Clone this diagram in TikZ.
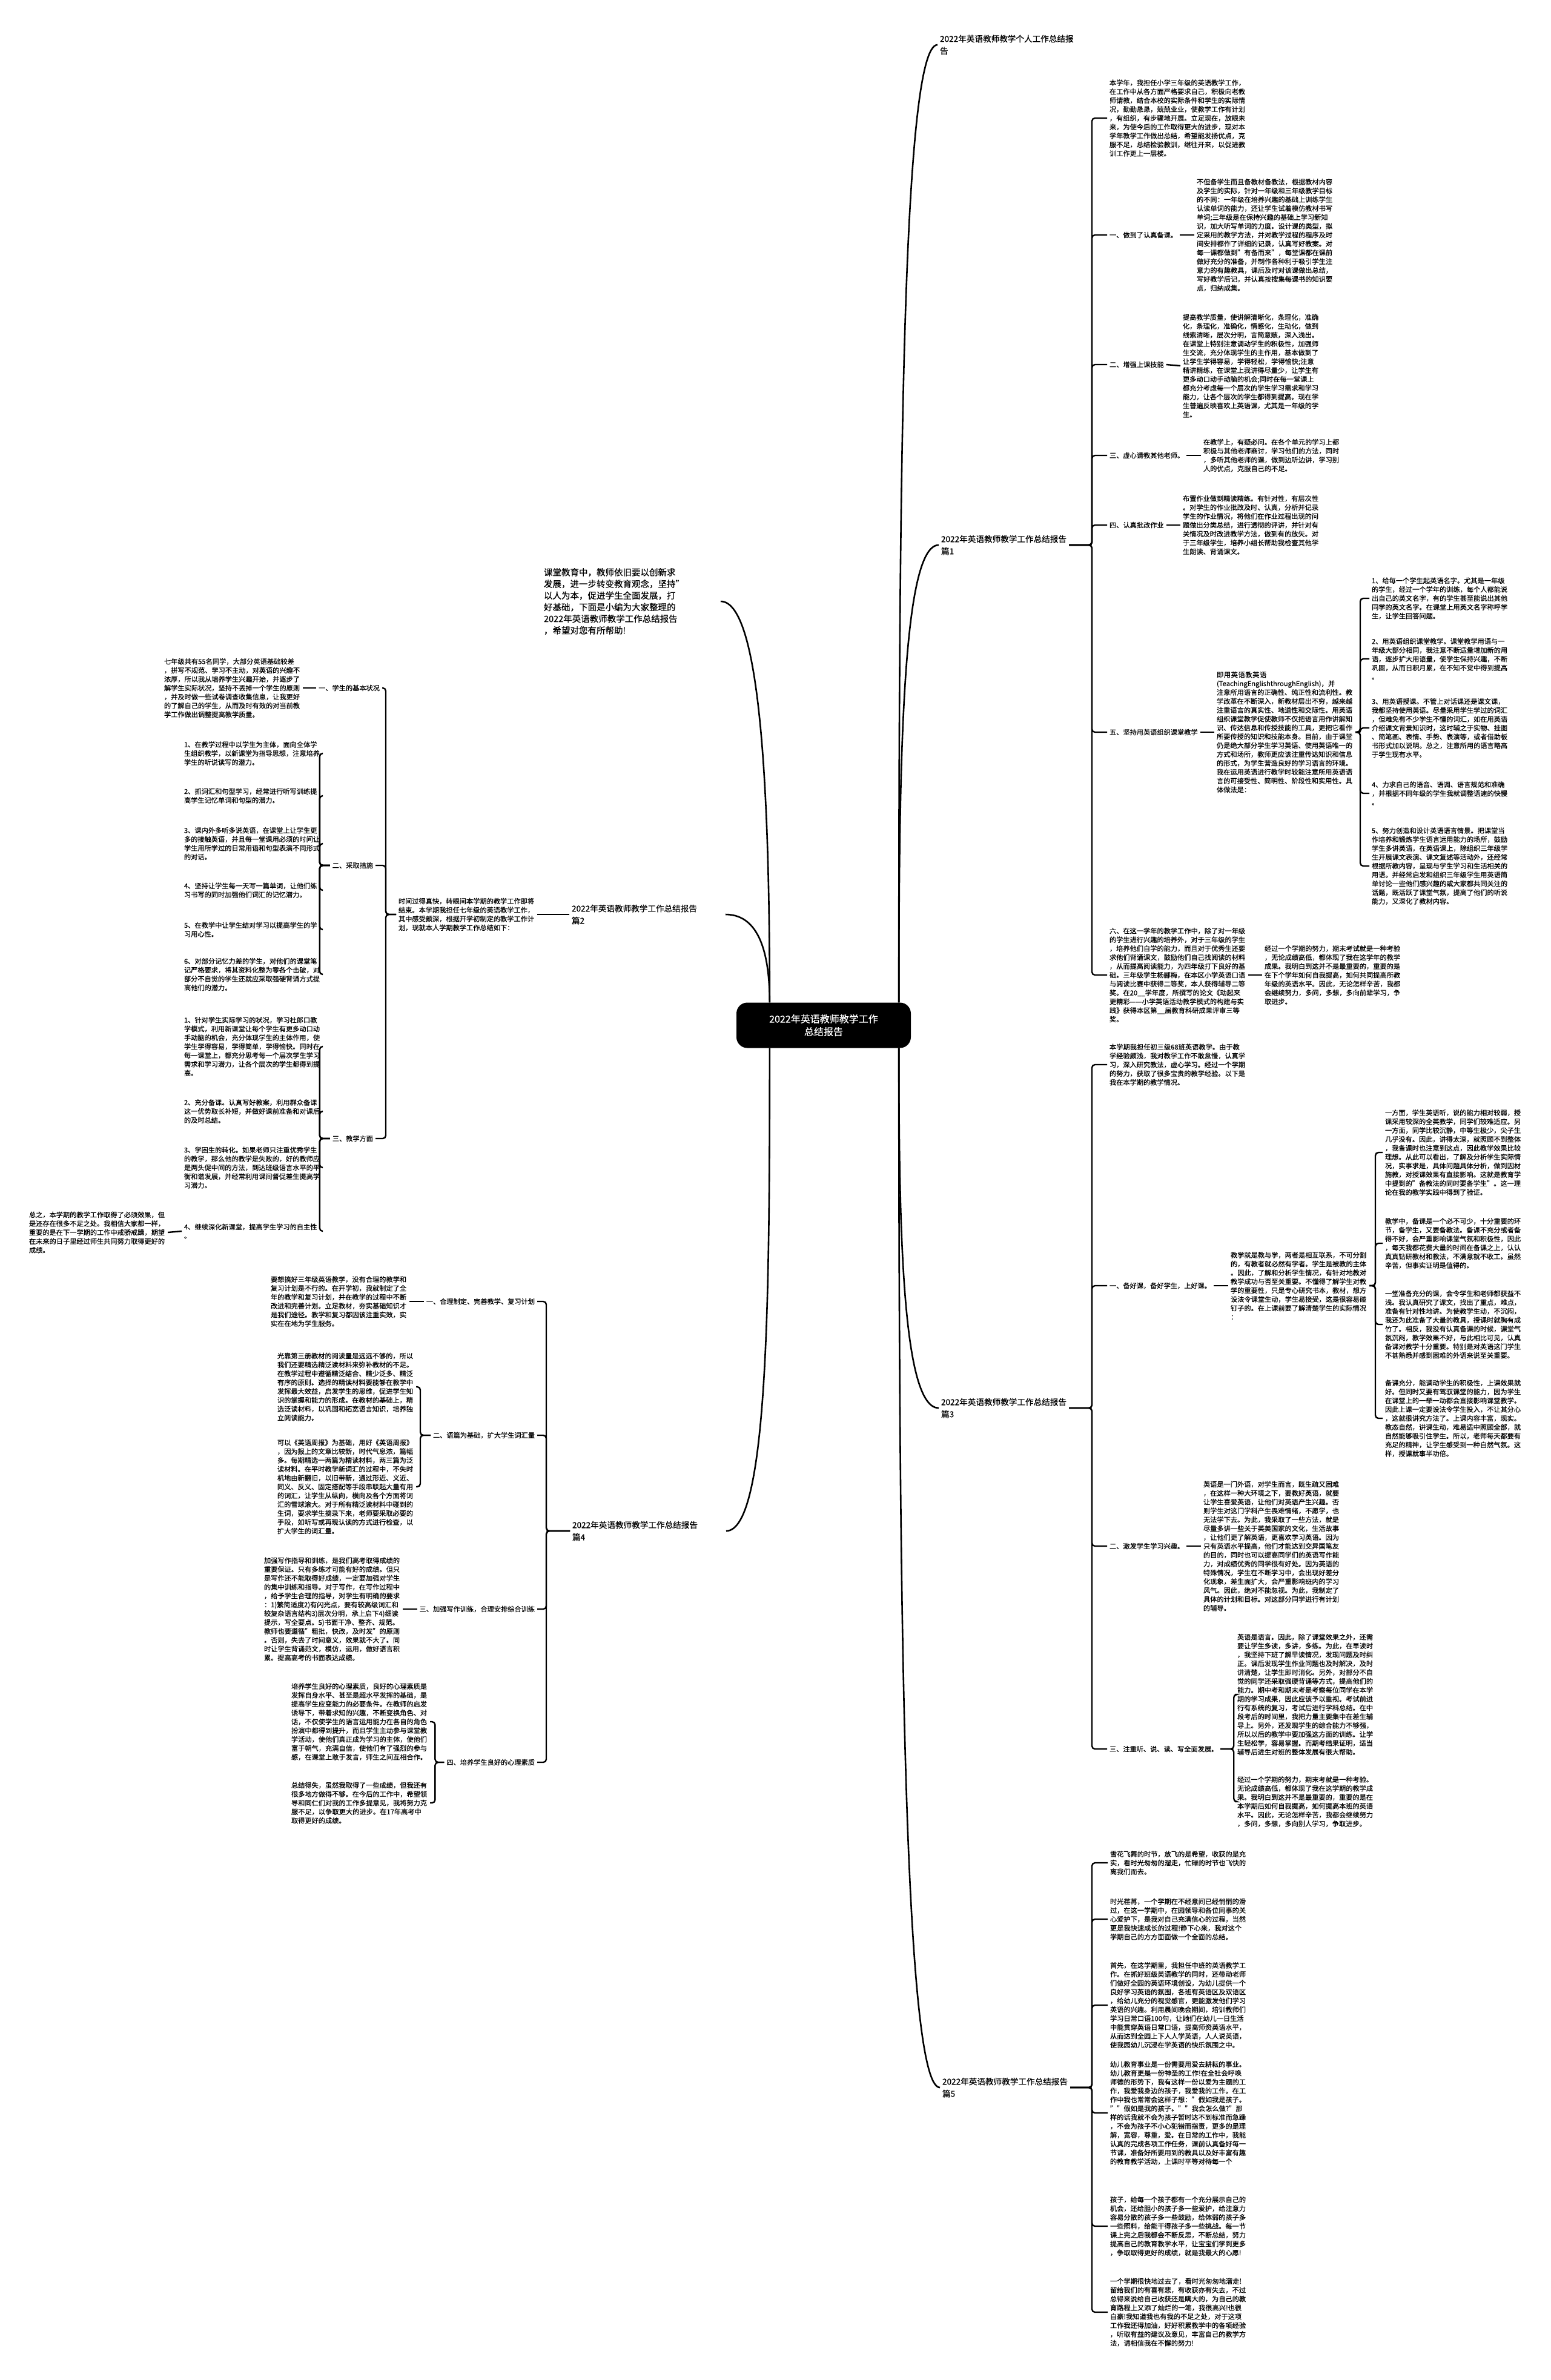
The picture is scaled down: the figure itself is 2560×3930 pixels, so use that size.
\documentclass[tikz,border=0pt]{standalone}
\usepackage{fontspec}
\setmainfont{Noto Sans CJK SC}[FakeBold=0.6]
% break between any two CJK characters, punctuation included
\newXeTeXintercharclass\cjkcls
\newcount\cjkc
\def\setcjk#1#2{\cjkc=#1\relax
  \loop\XeTeXcharclass\cjkc=\cjkcls\relax\ifnum\cjkc<#2\advance\cjkc by 1\repeat}
\setcjk{"3000}{"303F}
\setcjk{"4E00}{"9FFF}
\setcjk{"FF00}{"FFEF}
\XeTeXcharclass"2014=\cjkcls
\XeTeXinterchartoks\cjkcls\cjkcls={\hskip0pt plus .1pt\relax}
\XeTeXinterchartoks 0 \cjkcls={\hskip0pt plus .1pt\relax}
\XeTeXinterchartoks\cjkcls 0 ={\hskip0pt plus .1pt\relax}
\XeTeXinterchartokenstate=1

\begin{document}
\begin{tikzpicture}[x=1pt,y=-1pt, %% 1pt = 1 pixel of the page, y going down
    root/.style={fill=black,text=white,rounded corners=18pt,align=center,
      minimum width=288pt,minimum height=75pt,font=\fontsize{16}{21}\selectfont},
    rep/.style={align=left,inner sep=0pt,outer sep=4pt,font=\fontsize{13.6}{20}\selectfont},
    lbl/.style={inner sep=0pt,outer sep=4pt,font=\fontsize{11.2}{14.6}\selectfont},
    txt/.style={lbl,text width=225pt,align=left},
    main/.style={line width=2.6pt},
    brk/.style={line width=2.4pt,rounded corners=5pt}]
  \useasboundingbox (0,0) rectangle (2560,3930);

  \node[root] (C) at (1360,1693) {2022年英语教师教学工作\\总结报告};

  %% right side
  \node[rep,anchor=west] (r0) at (1548,74) {2022年英语教师教学个人工作总结报\\告};
  \node[rep,anchor=west] (r1) at (1550,900) {2022年英语教师教学工作总结报告\\篇1};
  \node[rep,anchor=west] (r3) at (1550,2325) {2022年英语教师教学工作总结报告\\篇3};
  \node[rep,anchor=west] (r5) at (1552,3447) {2022年英语教师教学工作总结报告\\篇5};

  % report 1
  \node[txt,anchor=west] (a1) at (1828,195) {本学年，我担任小学三年级的英语教学工作，在工作中从各方面严格要求自己，积极向老教师请教，结合本校的实际条件和学生的实际情况，勤勤恳恳，兢兢业业，使教学工作有计划，有组织，有步骤地开展。立足现在，放眼未来，为使今后的工作取得更大的进步，现对本学年教学工作做出总结，希望能发扬优点，克服不足，总结检验教训，继往开来，以促进教训工作更上一层楼。};
  \node[lbl,anchor=west] (a2) at (1828,388) {一、做到了认真备课。};
  \node[txt,anchor=west] (a2t) at (1972,388) {不但备学生而且备教材备教法，根据教材内容及学生的实际，针对一年级和三年级教学目标的不同：一年级在培养兴趣的基础上训练学生认读单词的能力，还让学生试着模仿教材书写单词;三年级是在保持兴趣的基础上学习新知识，加大听写单词的力度。设计课的类型，拟定采用的教学方法，并对教学过程的程序及时间安排都作了详细的记录，认真写好教案。对每一课都做到"有备而来"，每堂课都在课前做好充分的准备，并制作各种利于吸引学生注意力的有趣教具，课后及时对该课做出总结，写好教学后记，并认真按搜集每课书的知识要点，归纳成集。};
  \node[lbl,anchor=west] (a3) at (1828,602) {二、增强上课技能};
  \node[txt,anchor=west] (a3t) at (1949,604) {提高教学质量，使讲解清晰化，条理化，准确化，条理化，准确化，情感化，生动化，做到线索清晰，层次分明，言简意赅，深入浅出。在课堂上特别注意调动学生的积极性，加强师生交流，充分体现学生的主作用，基本做到了让学生学得容易，学得轻松，学得愉快;注意精讲精练，在课堂上我讲得尽量少，让学生有更多动口动手动脑的机会;同时在每一堂课上都充分考虑每一个层次的学生学习需求和学习能力，让各个层次的学生都得到提高。现在学生普遍反映喜欢上英语课，尤其是一年级的学生。};
  \node[lbl,anchor=west] (a4) at (1828,752) {三、虚心请教其他老师。};
  \node[txt,anchor=west] (a4t) at (1983,752) {在教学上，有疑必问。在各个单元的学习上都积极与其他老师商讨，学习他们的方法，同时，多听其他老师的课，做到边听边讲，学习别人的优点，克服自己的不足。};
  \node[lbl,anchor=west] (a5) at (1828,867) {四、认真批改作业};
  \node[txt,anchor=west] (a5t) at (1949,867) {布置作业做到精读精练。有针对性，有层次性。对学生的作业批改及时、认真，分析并记录学生的作业情况，将他们在作业过程出现的问题做出分类总结，进行透彻的评讲，并针对有关情况及时改进教学方法，做到有的放矢。对于三年级学生，培养小组长帮助我检查其他学生朗读、背诵课文。};
  \node[lbl,anchor=west] (a6) at (1828,1209) {五、坚持用英语组织课堂教学};
  \node[txt,anchor=west] (a6t) at (2005,1209) {即用英语教英语(\mbox{TeachingEnglishthroughEnglish})，并注意所用语言的正确性、纯正性和流利性。教学改革在不断深入，新教材层出不穷，越来越注重语言的真实性、地道性和交际性。用英语组织课堂教学促使教师不仅把语言用作讲解知识、传达信息和传授技能的工具，更把它看作所要传授的知识和技能本身。目前，由于课堂仍是绝大部分学生学习英语、使用英语唯一的方式和场所，教师更应该注重传达知识和信息的形式，为学生营造良好的学习语言的环境。我在运用英语进行教学时较能注意所用英语语言的可接受性、简明性、阶段性和实用性。具体做法是：};
  \node[txt,anchor=west] (s1) at (2261,988) {1、给每一个学生起英语名字。尤其是一年级的学生，经过一个学年的训练，每个人都能说出自己的英文名字，有的学生甚至能说出其他同学的英文名字。在课堂上用英文名字称呼学生，让学生回答问题。};
  \node[txt,anchor=west] (s2) at (2261,1088) {2、用英语组织课堂教学。课堂教学用语与一年级大部分相同，我注意不断适量增加新的用语，逐步扩大用语量，使学生保持兴趣，不断巩固，从而日积月累，在不知不觉中得到提高。};
  \node[txt,anchor=west] (s3) at (2261,1202) {3、用英语授课。不管上对话课还是课文课，我都坚持使用英语。尽量采用学生学过的词汇，但难免有不少学生不懂的词汇，如在用英语介绍课文背景知识时，这时辅之于实物、挂图、简笔画、表情、手势、表演等，或者借助板书形式加以说明。总之，注意所用的语言略高于学生现有水平。};
  \node[txt,anchor=west] (s4) at (2261,1310) {4、力求自己的语音、语调、语言规范和准确，并根据不同年级的学生我就调整语速的快慢。};
  \node[txt,anchor=west] (s5) at (2261,1430) {5、努力创造和设计英语语言情景。把课堂当作培养和锻炼学生语言运用能力的场所，鼓励学生多讲英语，在英语课上，除组织三年级学生开展课文表演、课文复述等活动外，还经常根据所教内容，呈现与学生学习和生活相关的用语。并经常启发和组织三年级学生用英语简单讨论一些他们感兴趣的或大家都共同关注的话题，既活跃了课堂气氛，提高了他们的听说能力，又深化了教材内容。};
  \node[txt,anchor=west] (a7) at (1828,1610) {六、在这一学年的教学工作中，除了对一年级的学生进行兴趣的培养外，对于三年级的学生，培养他们自学的能力，而且对于优秀生还要求他们背诵课文，鼓励他们自己找阅读的材料，从而提高阅读能力，为四年级打下良好的基础。三年级学生杨郦梅，在本区小学英语口语与阅读比赛中获得二等奖，本人获得辅导二等奖。在20\_\_学年度，所撰写的论文《动起来更精彩——小学英语活动教学模式的构建与实践》获得本区第\_\_届教育科研成果评审三等奖。};
  \node[txt,anchor=west] (a7t) at (2084,1610) {经过一个学期的努力，期末考试就是一种考验，无论成绩高低，都体现了我在这学年的教学成果。我明白到这并不是最重要的，重要的是在下个学年如何自我提高，如何共同提高所教年级的英语水平。因此，无论怎样辛苦，我都会继续努力，多问，多想，多向前辈学习，争取进步。};

  % report 3
  \node[txt,anchor=west] (b1) at (1828,1758) {本学期我担任初三级68班英语教学。由于教学经验颇浅，我对教学工作不敢怠慢，认真学习，深入研究教法，虚心学习。经过一个学期的努力，获取了很多宝贵的教学经验。以下是我在本学期的教学情况。};
  \node[lbl,anchor=west] (b2) at (1828,2123) {一、备好课，备好学生，上好课。};
  \node[txt,anchor=west] (b2t) at (2028,2123) {教学就是教与学，两者是相互联系，不可分割的，有教者就必然有学者。学生是被教的主体。因此，了解和分析学生情况，有针对地教对教学成功与否至关重要。不懂得了解学生对教学的重要性，只是专心研究书本，教材，想方设法令课堂生动，学生易接受，这是很容易碰钉子的。在上课前要了解清楚学生的实际情况：};
  \node[txt,anchor=west] (b2a) at (2283,1903) {一方面，学生英语听，说的能力相对较弱，授课采用较深的全英教学，同学们较难适应。另一方面，同学比较沉静，中等生极少，尖子生几乎没有。因此，讲得太深，就照顾不到整体，我备课时也注意到这点，因此教学效果比较理想。从此可以看出，了解及分析学生实际情况，实事求是，具体问题具体分析，做到因材施教，对授课效果有直接影响。这就是教育学中提到的"备教法的同时要备学生"。这一理论在我的教学实践中得到了验证。};
  \node[txt,anchor=west] (b2b) at (2283,2053) {教学中，备课是一个必不可少，十分重要的环节，备学生，又要备教法。备课不充分或者备得不好，会严重影响课堂气氛和积极性，因此，每天我都花费大量的时间在备课之上，认认真真钻研教材和教法，不满意就不收工。虽然辛苦，但事实证明是值得的。};
  \node[txt,anchor=west] (b2c) at (2283,2187) {一堂准备充分的课，会令学生和老师都获益不浅。我认真研究了课文，找出了重点，难点，准备有针对性地讲。为使教学生动，不沉闷，我还为此准备了大量的教具，授课时就胸有成竹了。相反，我没有认真备课的时候，课堂气氛沉闷，教学效果不好，与此相比可见，认真备课对教学十分重要。特别是对英语这门学生不甚熟悉并感到困难的外语来说至关重要。};
  \node[txt,anchor=west] (b2d) at (2283,2342) {备课充分，能调动学生的积极性，上课效果就好。但同时又要有驾驭课堂的能力，因为学生在课堂上的一举一动都会直接影响课堂教学。因此上课一定要设法令学生投入，不让其分心，这就很讲究方法了。上课内容丰富，现实。教态自然，讲课生动，难易适中照顾全部，就自然能够吸引住学生。所以，老师每天都要有充足的精神，让学生感受到一种自然气氛。这样，授课就事半功倍。};
  \node[lbl,anchor=west] (b3) at (1828,2553) {二、激发学生学习兴趣。};
  \node[txt,anchor=west] (b3t) at (1983,2553) {英语是一门外语，对学生而言，既生疏又困难，在这样一种大环境之下，要教好英语，就要让学生喜爱英语，让他们对英语产生兴趣。否则学生对这门学科产生畏难情绪，不愿学，也无法学下去。为此，我采取了一些方法，就是尽量多讲一些关于英美国家的文化，生活故事，让他们更了解英语，更喜欢学习英语。因为只有英语水平提高，他们才能达到交异国笔友的目的，同时也可以提高同学们的英语写作能力，对成绩优秀的同学很有好处。因为英语的特殊情况，学生在不断学习中，会出现好差分化现象，差生面扩大，会严重影响班内的学习风气。因此，绝对不能忽视。为此，我制定了具体的计划和目标。对这部分同学进行有计划的辅导。};
  \node[lbl,anchor=west] (b4) at (1828,2888) {三、注重听、说、读、写全面发展。};
  \node[txt,anchor=west] (b4a) at (2039,2798) {英语是语言。因此，除了课堂效果之外，还需要让学生多读，多讲，多练。为此，在早读时，我坚持下班了解早读情况，发现问题及时纠正。课后发现学生作业问题也及时解决，及时讲清楚，让学生即时消化。另外，对部分不自觉的同学还采取强硬背诵等方式，提高他们的能力。期中考和期末考是考察每位同学在本学期的学习成果，因此应该予以重视。考试前进行有系统的复习，考试后进行学科总结。在中段考后的时间里，我把力量主要集中在差生辅导上。另外，还发现学生的综合能力不够强，所以以后的教学中要加强这方面的训练。让学生轻松学，容易掌握。而期考结果证明，适当辅导后进生对班的整体发展有很大帮助。};
  \node[txt,anchor=west] (b4b) at (2039,2975) {经过一个学期的努力，期末考就是一种考验。无论成绩高低，都体现了我在这学期的教学成果。我明白到这并不是最重要的，重要的是在本学期后如何自我提高，如何提高本班的英语水平。因此，无论怎样辛苦，我都会继续努力，多问，多想，多向别人学习，争取进步。};

  % report 5
  \node[txt,anchor=west] (c1) at (1829,3076) {雪花飞舞的时节，放飞的是希望，收获的是充实，看时光匆匆的溜走，忙碌的时节也飞快的离我们而去。};
  \node[txt,anchor=west] (c2) at (1829,3169) {时光荏苒，一个学期在不经意间已经悄悄的滑过，在这一学期中，在园领导和各位同事的关心爱护下，是我对自己充满信心的过程，当然更是我快速成长的过程!静下心来，我对这个学期自己的方方面面做一个全面的总结。};
  \node[txt,anchor=west] (c3) at (1829,3311) {首先，在这学期里，我担任中班的英语教学工作。在抓好班级英语教学的同时，还带动老师们做好全园的英语环境创设，为幼儿提供一个良好学习英语的氛围，各班有英语区及双语区，给幼儿充分的视觉感官，更能激发他们学习英语的兴趣。利用晨间晚会期间，培训教师们学习日常口语100句，让她们在幼儿一日生活中能贯穿英语日常口语，提高师资英语水平，从而达到全园上下人人学英语，人人说英语，使我园幼儿沉浸在学英语的快乐氛围之中。};
  \node[txt,anchor=west] (c4) at (1829,3489) {幼儿教育事业是一份需要用爱去耕耘的事业。幼儿教育更是一份神圣的工作!在全社会呼唤师德的形势下，我有这样一份以爱为主题的工作，我爱我身边的孩子，我爱我的工作。在工作中我也常常会这样子想："假如我是孩子。""假如是我的孩子。""我会怎么做?"那样的话我就不会为孩子暂时达不到标准而急躁，不会为孩子不小心犯错而指责，更多的是理解，宽容，尊重，爱。在日常的工作中，我能认真的完成各项工作任务，课前认真备好每一节课，准备好所要用到的教具以及好丰富有趣的教育教学活动，上课时平等对待每一个};
  \node[txt,anchor=west] (c5) at (1829,3676) {孩子，给每一个孩子都有一个充分展示自己的机会，还给胆小的孩子多一些爱护，给注意力容易分散的孩子多一些鼓励，给体弱的孩子多一些照料，给能干得孩子多一些挑战。每一节课上完之后我都会不断反思，不断总结，努力提高自己的教育教学水平，让宝宝们学到更多，争取取得更好的成绩，就是我最大的心愿!};
  \node[txt,anchor=west] (c6) at (1829,3818) {一个学期很快地过去了，看时光匆匆地溜走!留给我们的有喜有悲，有收获亦有失去，不过总得来说给自己收获还是瞒大的，为自己的教育路程上又添了灿烂的一笔，我很高兴!也很自豪!我知道我也有我的不足之处，对于这项工作我还得加油，好好积累教学中的各项经验，听取有益的建议及意见，丰富自己的教学方法，请相信我在不懈的努力!};

  %% left side
  \node[rep,anchor=east,text width=288pt,font=\fontsize{14.5}{19.2}\selectfont] (intro) at (1190,993) {课堂教育中，教师依旧要以创新求\\发展，进一步转变教育观念，坚持"\\以人为本，促进学生全面发展，打\\好基础，下面是小编为大家整理的\\2022年英语教师教学工作总结报告\\，希望对您有所帮助!};
  \node[rep,anchor=west,text width=250pt] (r2) at (940,1510) {2022年英语教师教学工作总结报告\\篇2};
  \node[rep,anchor=west,text width=250pt] (r4) at (941,2528) {2022年英语教师教学工作总结报告\\篇4};

  % report 2
  \node[txt,anchor=east] (d0) at (887,1510) {时间过得真快，转眼间本学期的教学工作即将结束。本学期我担任七年级的英语教学工作，其中感受颇深，根据开学初制定的教学工作计划，现就本人学期教学工作总结如下：};
  \node[lbl,anchor=east] (d1) at (631,1136) {一、学生的基本状况};
  \node[txt,anchor=east] (d1t) at (500,1136) {七年级共有55名同学，大部分英语基础较差，拼写不规范、学习不主动，对英语的兴趣不浓厚，所以我从培养学生兴趣开始，并逐步了解学生实际状况，坚持不丢掉一个学生的原则，并及时做一些试卷调查收集信息，让我更好的了解自己的学生，从而及时有效的对当前教学工作做出调整提高教学质量。};
  \node[lbl,anchor=east] (d2) at (620,1429) {二、采取措施};
  \node[txt,anchor=east] (m1) at (533,1244) {1、在教学过程中以学生为主体，面向全体学生组织教学，以新课堂为指导思想，注意培养学生的听说读写的潜力。};
  \node[txt,anchor=east] (m2) at (533,1314) {2、抓词汇和句型学习，经常进行听写训练提高学生记忆单词和句型的潜力。};
  \node[txt,anchor=east] (m3) at (533,1393) {3、课内外多听多说英语，在课堂上让学生更多的接触英语，并且每一堂课用必须的时间让学生用所学过的日常用语和句型表演不同形式的对话。};
  \node[txt,anchor=east] (m4) at (533,1470) {4、坚持让学生每一天写一篇单词，让他们练习书写的同时加强他们词汇的记忆潜力。};
  \node[txt,anchor=east] (m5) at (533,1535) {5、在教学中让学生结对学习以提高学生的学习用心性。};
  \node[txt,anchor=east] (m6) at (533,1609) {6、对部分记忆力差的学生，对他们的课堂笔记严格要求，将其资料化整为零各个击破，对部分不自觉的学生还就应采取强硬背诵方式提高他们的潜力。};
  \node[lbl,anchor=east] (d3) at (620,1880) {三、教学方面};
  \node[txt,anchor=east] (n1) at (533,1728) {1、针对学生实际学习的状况，学习杜郎口教学模式，利用新课堂让每个学生有更多动口动手动脑的机会，充分体现学生的主体作用，使学生学得容易，学得简单，学得愉快。同时在每一课堂上，都充分思考每一个层次学生学习需求和学习潜力，让各个层次的学生都得到提高。};
  \node[txt,anchor=east] (n2) at (533,1835) {2、充分备课。认真写好教案，利用群众备课这一优势取长补短，并做好课前准备和对课后的及时总结。};
  \node[txt,anchor=east] (n3) at (533,1928) {3、学困生的转化。如果老师只注重优秀学生的教学，那么他的教学是失败的，好的教师应是两头促中间的方法，到达班级语言水平的平衡和谐发展，并经常利用课间督促差生提高学习潜力。};
  \node[txt,anchor=east] (n4) at (533,2033) {4、继续深化新课堂，提高学生学习的自主性。};
  \node[txt,anchor=east] (n4t) at (277,2035) {总之，本学期的教学工作取得了必须效果，但是还存在很多不足之处。我相信大家都一样，重要的是在下一学期的工作中戒骄戒躁，期望在未来的日子里经过师生共同努力取得更好的成绩。};

  % report 4
  \node[lbl,anchor=east] (e1) at (887,2149) {一、合理制定、完善教学、复习计划};
  \node[txt,anchor=east] (e1t) at (676,2149) {要想搞好三年级英语教学，没有合理的教学和复习计划是不行的。在开学初，我就制定了全年的教学和复习计划，并在教学的过程中不断改进和完善计划。立足教材，夯实基础知识才是我们途径。教学和复习都因该注重实效，实实在在地为学生服务。};
  \node[lbl,anchor=east] (e2) at (887,2370) {二、语篇为基础，扩大学生词汇量};
  \node[txt,anchor=east] (e2a) at (687,2290) {光靠第三册教材的阅读量是远远不够的，所以我们还要精选精泛读材料来弥补教材的不足。在教学过程中遵循精泛结合、精少泛多、精泛有序的原则。选择的精读材料要能够在教学中发挥最大效益，启发学生的思维，促进学生知识的掌握和能力的形成。在教材的基础上，精选泛读材料，以巩固和拓宽语言知识，培养独立阅读能力。};
  \node[txt,anchor=east] (e2b) at (687,2455) {可以《英语周报》为基础，用好《英语周报》，因为报上的文章比较新，时代气息浓，篇幅多。每期精选一两篇为精读材料，两三篇为泛读材料。在平时教学新词汇的过程中，不失时机地由新翻旧，以旧带新，通过形近、义近、同义、反义、固定搭配等手段串联起大量有用的词汇，让学生从纵向，横向及各个方面将词汇的雪球滚大。对于所有精泛读材料中碰到的生词，要求学生摘录下来，老师要采取必要的手段，如听写或再现认读的方式进行检查，以扩大学生的词汇量。};
  \node[lbl,anchor=east] (e3) at (887,2657) {三、加强写作训练，合理安排综合训练};
  \node[txt,anchor=east] (e3t) at (665,2657) {加强写作指导和训练，是我们高考取得成绩的重要保证。只有多练才可能有好的成绩。但只是写作还不能取得好成绩，一定要加强对学生的集中训练和指导。对于写作，在写作过程中，给予学生合理的指导，对学生有明确的要求：1)繁简适度2)有闪光点，要有较高级词汇和较复杂语言结构3)层次分明，承上启下4)细读提示，写全要点。5)书面干净、整齐、规范。教师也要遵循"粗批，快改，及时发"的原则。否则，失去了时间意义，效果就不大了。同时让学生背诵范文，模仿，运用，做好语言积累。提高高考的书面表达成绩。};
  \node[lbl,anchor=east] (e4) at (887,2910) {四、培养学生良好的心理素质};
  \node[txt,anchor=east] (e4a) at (710,2843) {培养学生良好的心理素质，良好的心理素质是发挥自身水平、甚至是超水平发挥的基础，是提高学生应变能力的必要条件。在教师的启发诱导下，带着求知的兴趣，不断变换角色、对话，不仅使学生的语言运用能力在各自的角色扮演中都得到提升，而且学生主动参与课堂教学活动，使他们真正成为学习的主体，使他们富于朝气，充满自信，使他们有了强烈的参与感，在课堂上敢于发言，师生之间互相合作。};
  \node[txt,anchor=east] (e4b) at (710,2977) {总结得失，虽然我取得了一些成绩，但我还有很多地方做得不够。在今后的工作中，希望领导和同仁们对我的工作多提意见，我将努力克服不足，以争取更大的进步。在17年高考中取得更好的成绩。};

  %% curves from the root
  \draw[main] ([xshift=-20pt]C.north east) .. controls +(0,-800) and +(-60,0) .. (r0.west);
  \draw[main] ([xshift=-20pt]C.north east) .. controls +(0,-400) and +(-60,0) .. (r1.west);
  \draw[main] ([xshift=-20pt]C.south east) .. controls +(0,300) and +(-60,0) .. (r3.west);
  \draw[main] ([xshift=-20pt]C.south east) .. controls +(0,900) and +(-60,0) .. (r5.west);
  \draw[main] ([xshift=55pt]C.north west) .. controls +(0,-300) and +(70,0) .. (intro.east);
  \draw[main] ([xshift=55pt]C.north west) .. controls +(0,-70) and +(60,0) .. (r2.east);
  \draw[main] ([xshift=55pt]C.south west) .. controls +(0,400) and +(70,0) .. (r4.east);

  %% brackets, right
  \foreach \c in {a1,a2,a3,a4,a5,a6,a7} \draw[brk] (r1.east) -- ++(38,0) |- (\c.west);
  \foreach \c in {s1,s2,s3,s4,s5} \draw[brk] (a6t.east) -- ++(8,0) |- (\c.west);
  \foreach \c in {b1,b2,b3,b4} \draw[brk] (r3.east) -- ++(38,0) |- (\c.west);
  \foreach \c in {b2a,b2b,b2c,b2d} \draw[brk] (b2t.east) -- ++(10,0) |- (\c.west);
  \foreach \c in {b4a,b4b} \draw[brk] (b4.east) -- ++(22,0) |- (\c.west);
  \foreach \c in {c1,c2,c3,c4,c5,c6} \draw[brk] (r5.east) -- ++(36,0) |- (\c.west);
  \foreach \a/\b in {a2/a2t,a3/a3t,a4/a4t,a5/a5t,a6/a6t,a7/a7t,b2/b2t,b3/b3t}
    \draw[brk] (\a.east) -- (\b.west);

  %% brackets, left
  \draw[brk] (r2.west) -- (d0.east);
  \foreach \c in {d1,d2,d3} \draw[brk] (d0.west) -- ++(-17,0) |- (\c.east);
  \foreach \c in {m1,m2,m3,m4,m5,m6} \draw[brk] (d2.west) -- ++(-17,0) |- (\c.east);
  \foreach \c in {n1,n2,n3,n4} \draw[brk] (d3.west) -- ++(-17,0) |- (\c.east);
  \foreach \c in {e1,e2,e3,e4} \draw[brk] (r4.west) -- ++(-39,0) |- (\c.east);
  \foreach \c in {e2a,e2b} \draw[brk] (e2.west) -- ++(-17,0) |- (\c.east);
  \foreach \c in {e4a,e4b} \draw[brk] (e4.west) -- ++(-15,0) |- (\c.east);
  \foreach \a/\b in {d1/d1t,n4/n4t,e1/e1t,e3/e3t}
    \draw[brk] (\a.west) -- (\b.east);
\end{tikzpicture}
\end{document}
